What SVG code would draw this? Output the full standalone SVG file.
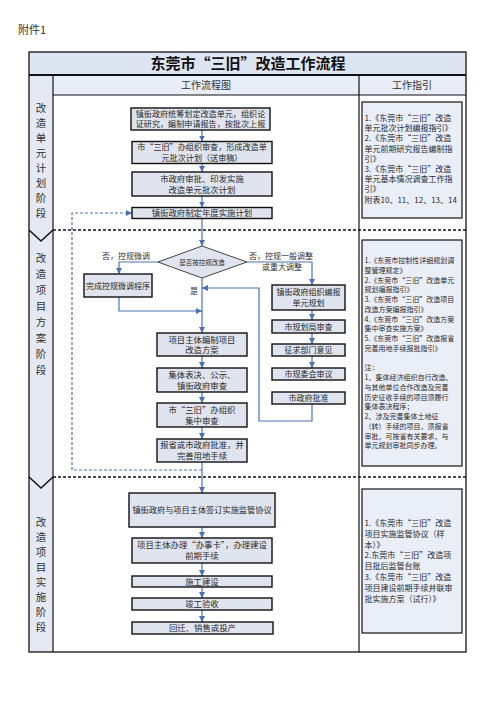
<svg xmlns="http://www.w3.org/2000/svg" width="496" height="702" viewBox="0 0 496 702">
<style>
text{font-family:"Noto Sans CJK SC","Liberation Sans",sans-serif;fill:#2a2a2a}
.box{fill:#dfe4ee;stroke:#111;stroke-width:1.4}
.bt{font-size:8.4px;text-anchor:middle}
.gbox{fill:#eaeef7;stroke:#111;stroke-width:1.2}
.g{font-size:8px}
.g2{font-size:7px}
.stage{font-size:10.5px;text-anchor:middle;fill:#333}
.c{fill:none;stroke:#4a72b5;stroke-width:1.2}
.lbl{font-size:8px;fill:#333}
</style>
<defs>
<marker id="ah" markerWidth="6" markerHeight="6" refX="6" refY="3" orient="auto" markerUnits="userSpaceOnUse">
<path d="M0,0 L6,3 L0,6 z" fill="#4a72b5"/>
</marker>
</defs>
<rect width="496" height="702" fill="#fff"/>
<text x="18" y="34" style="font-size:11px;fill:#333">附件1</text>

<g id="table">
<rect x="29" y="52" width="437" height="23" fill="#dde5f3"/>
<rect x="53" y="75" width="413" height="20" fill="#e8edf7"/>
<rect x="29" y="75" width="24" height="577" fill="#e4e9f4"/>
<rect x="29" y="52" width="437" height="600" fill="none" stroke="#111" stroke-width="1.3"/>
<line x1="29" y1="75" x2="466" y2="75" stroke="#111" stroke-width="2.2"/>
<line x1="53" y1="95" x2="466" y2="95" stroke="#111" stroke-width="1.2"/>
<line x1="53" y1="75" x2="53" y2="652" stroke="#111" stroke-width="1.2"/>
<line x1="359" y1="75" x2="359" y2="652" stroke="#111" stroke-width="1.2"/>
<line x1="53" y1="230" x2="466" y2="230" stroke="#111" stroke-width="1.5" stroke-dasharray="3,2"/>
<line x1="53" y1="477" x2="466" y2="477" stroke="#111" stroke-width="1.5" stroke-dasharray="3,2"/>
<polyline points="29,230 41,241 53,230" fill="none" stroke="#111" stroke-width="1.5"/>
<polyline points="29,477 41,488 53,477" fill="none" stroke="#111" stroke-width="1.5"/>
<text x="248" y="69" style="font-size:15px;font-weight:bold;text-anchor:middle;fill:#111">东莞市“三旧”改造工作流程</text>
<text x="206" y="89" style="font-size:10px;text-anchor:middle;fill:#333">工作流程图</text>
<text x="412" y="89" style="font-size:10px;text-anchor:middle;fill:#333">工作指引</text>
</g>

<g id="stage1-label">
<text class="stage" x="41" y="112">改</text><text class="stage" x="41" y="127">造</text><text class="stage" x="41" y="142">单</text><text class="stage" x="41" y="157">元</text><text class="stage" x="41" y="172">计</text><text class="stage" x="41" y="187">划</text><text class="stage" x="41" y="202">阶</text><text class="stage" x="41" y="217">段</text>
</g>
<g id="stage2-label">
<text class="stage" x="41" y="262">改</text><text class="stage" x="41" y="278">造</text><text class="stage" x="41" y="294">项</text><text class="stage" x="41" y="310">目</text><text class="stage" x="41" y="326">方</text><text class="stage" x="41" y="342">案</text><text class="stage" x="41" y="358">阶</text><text class="stage" x="41" y="374">段</text>
</g>
<g id="stage3-label">
<text class="stage" x="41" y="526">改</text><text class="stage" x="41" y="541">造</text><text class="stage" x="41" y="556">项</text><text class="stage" x="41" y="571">目</text><text class="stage" x="41" y="586">实</text><text class="stage" x="41" y="601">施</text><text class="stage" x="41" y="616">阶</text><text class="stage" x="41" y="631">段</text>
</g>

<g id="connectors">
<path class="c" d="M202,130 V141.5" marker-end="url(#ah)"/>
<path class="c" d="M202,163.5 V172" marker-end="url(#ah)"/>
<path class="c" d="M202,196 V207.5" marker-end="url(#ah)"/>
<path class="c" d="M202,218.5 V246" marker-end="url(#ah)"/>
<path class="c" d="M202,278 V333" marker-end="url(#ah)"/>
<path class="c" d="M158,262 H119 V274" marker-end="url(#ah)"/>
<path class="c" d="M119,297 V311 H202" marker-end="url(#ah)"/>
<path class="c" d="M247,262 H312 V285" marker-end="url(#ah)"/>
<path class="c" d="M312,310 V320" marker-end="url(#ah)"/>
<path class="c" d="M312,333 V344" marker-end="url(#ah)"/>
<path class="c" d="M312,356 V368" marker-end="url(#ah)"/>
<path class="c" d="M312,404 V421 H259 V288 H202" marker-end="url(#ah)"/>
<path class="c" d="M202,356 V368" marker-end="url(#ah)"/>
<path class="c" d="M202,392 V403" marker-end="url(#ah)"/>
<path class="c" d="M202,427 V439" marker-end="url(#ah)"/>
<path class="c" d="M202,462 V493" marker-end="url(#ah)"/>
<path class="c" d="M202,527 V538" marker-end="url(#ah)"/>
<path class="c" d="M202,563 V576" marker-end="url(#ah)"/>
<path class="c" d="M202,587 V598" marker-end="url(#ah)"/>
<path class="c" d="M202,610 V622" marker-end="url(#ah)"/>
<path class="c" d="M202,470 H72 V213 H132" stroke-dasharray="3,2" marker-end="url(#ah)"/>
<text class="lbl" x="126" y="259" text-anchor="middle">否，控规微调</text>
<text class="lbl" x="249" y="259">否，控规一般调整</text>
<text class="lbl" x="262" y="270">或重大调整</text>
<text class="lbl" x="190" y="294">是</text>
</g>

<g id="n1"><rect class="box" x="131" y="108" width="139" height="22"/>
<text class="bt" x="200.5" y="116.6" style="font-size:8.1px">镇街政府统筹划定改造单元，组织论</text><text class="bt" x="200.5" y="127.2" style="font-size:8.1px">证研究，编制申请报告，按批次上报</text></g>
<g id="n2"><rect class="box" x="132" y="141.5" width="140" height="22"/>
<text class="bt" x="202" y="150.1" style="font-size:8.1px">市“三旧”办组织审查，形成改造单</text><text class="bt" x="202" y="160.7" style="font-size:8.1px">元批次计划（送审稿）</text></g>
<g id="n3"><rect class="box" x="132" y="172" width="140" height="24"/>
<text class="bt" x="202" y="181.5">市政府审批、印发实施</text><text class="bt" x="202" y="192.5">改造单元批次计划</text></g>
<g id="n4"><rect class="box" x="132" y="207.5" width="140" height="11"/>
<text class="bt" x="202" y="216">镇街政府制定年度实施计划</text></g>

<g id="decision"><polygon points="202,246 247,262 202,278 158,262" fill="#dfe4ee" stroke="#444" stroke-width="1"/>
<text x="202" y="264.5" style="font-size:6.5px;text-anchor:middle">是否按控规改造</text></g>
<g id="n-minor"><rect class="box" x="84" y="274" width="68" height="23"/>
<text class="bt" x="118" y="288.5" style="font-size:8px">完成控规微调程序</text></g>

<g id="p1"><rect class="box" x="157" y="333" width="90" height="23"/>
<text class="bt" x="202" y="342.5">项目主体编制项目</text><text class="bt" x="202" y="353">改造方案</text></g>
<g id="p2"><rect class="box" x="157" y="368" width="90" height="24"/>
<text class="bt" x="202" y="377.5">集体表决、公示、</text><text class="bt" x="202" y="388.5">镇街政府审查</text></g>
<g id="p3"><rect class="box" x="157" y="403" width="90" height="24"/>
<text class="bt" x="202" y="412.5">市“三旧”办组织</text><text class="bt" x="202" y="423.5">集中审查</text></g>
<g id="p4"><rect class="box" x="157" y="439" width="90" height="23"/>
<text class="bt" x="202" y="448">报省或市政府批准，并</text><text class="bt" x="202" y="458.5">完善用地手续</text></g>

<g id="r1"><rect class="box" x="272" y="285" width="73" height="25"/>
<text class="bt" x="308.5" y="294.5" style="font-size:8px">镇街政府组织编报</text><text class="bt" x="308.5" y="305.5" style="font-size:8px">单元规划</text></g>
<g id="r2"><rect class="box" x="272" y="320" width="73" height="13"/>
<text class="bt" x="308.5" y="329.5" style="font-size:8px">市规划局审查</text></g>
<g id="r3"><rect class="box" x="272" y="344" width="73" height="12"/>
<text class="bt" x="308.5" y="353" style="font-size:8px">征求部门意见</text></g>
<g id="r4"><rect class="box" x="272" y="368" width="73" height="12"/>
<text class="bt" x="308.5" y="377" style="font-size:8px">市规委会审议</text></g>
<g id="r5"><rect class="box" x="272" y="392" width="73" height="12"/>
<text class="bt" x="308.5" y="401" style="font-size:8px">市政府批准</text></g>

<g id="s3a"><rect class="box" x="129" y="493" width="146" height="34"/>
<text class="bt" x="202" y="513" style="font-size:8.2px">镇街政府与项目主体签订实施监管协议</text></g>
<g id="s3b"><rect class="box" x="132" y="538" width="140" height="25"/>
<text class="bt" x="202" y="547.5">项目主体办理“办事卡”，办理建设</text><text class="bt" x="202" y="558.5">前期手续</text></g>
<g id="s3c"><rect class="box" x="132" y="576" width="140" height="11"/>
<text class="bt" x="202" y="584.5">施工建设</text></g>
<g id="s3d"><rect class="box" x="132" y="598" width="140" height="12"/>
<text class="bt" x="202" y="607">竣工验收</text></g>
<g id="s3e"><rect class="box" x="132" y="622" width="141" height="12"/>
<text class="bt" x="202.5" y="631">回迁、销售或投产</text></g>

<g id="guide1"><rect class="gbox" x="362" y="102" width="100" height="116"/>
<text class="g" x="364.5" y="121">1.《东莞市“三旧”改造</text>
<text class="g" x="364.5" y="131.2">单元批次计划编报指引》</text>
<text class="g" x="364.5" y="141.4">2.《东莞市“三旧”改造</text>
<text class="g" x="364.5" y="151.6">单元前期研究报告编制指</text>
<text class="g" x="364.5" y="161.8">引》</text>
<text class="g" x="364.5" y="172">3.《东莞市“三旧”改造</text>
<text class="g" x="364.5" y="182.2">单元基本情况调查工作指</text>
<text class="g" x="364.5" y="192.4">引》</text>
<text class="g" x="364.5" y="202.6">附表10、11、12、13、14</text></g>

<g id="guide2"><rect class="gbox" x="362" y="240" width="100" height="226"/>
<text class="g2" x="364.5" y="263">1.《东莞市控制性详细规划调</text>
<text class="g2" x="364.5" y="272.75">整管理规定》</text>
<text class="g2" x="364.5" y="282.5">2.《东莞市“三旧”改造单元</text>
<text class="g2" x="364.5" y="292.25">规划编报指引》</text>
<text class="g2" x="364.5" y="302">3.《东莞市“三旧”改造项目</text>
<text class="g2" x="364.5" y="311.75">改造方案编报指引》</text>
<text class="g2" x="364.5" y="321.5">4.《东莞市“三旧”改造方案</text>
<text class="g2" x="364.5" y="331.25">集中审查实施方案》</text>
<text class="g2" x="364.5" y="341">5.《东莞市“三旧”改造报省</text>
<text class="g2" x="364.5" y="350.75">完善用地手续报批指引》</text>
<text class="g2" x="364.5" y="370.25">注：</text>
<text class="g2" x="364.5" y="380">1、集体经济组织自行改造、</text>
<text class="g2" x="364.5" y="389.75">与其他单位合作改造及完善</text>
<text class="g2" x="364.5" y="399.5">历史征收手续的项目须履行</text>
<text class="g2" x="364.5" y="409.25">集体表决程序；</text>
<text class="g2" x="364.5" y="419">2、涉及完善集体土地征</text>
<text class="g2" x="364.5" y="428.75">（转）手续的项目，须报省</text>
<text class="g2" x="364.5" y="438.5">审批，可按省有关要求，与</text>
<text class="g2" x="364.5" y="448.25">单元规划审批同步办理。</text></g>

<g id="guide3"><rect class="gbox" x="362" y="489" width="100" height="144"/>
<text class="g" x="364.5" y="526">1.《东莞市“三旧”改造</text>
<text class="g" x="364.5" y="536.8">项目实施监管协议（样</text>
<text class="g" x="364.5" y="547.6">本）》</text>
<text class="g" x="364.5" y="558.4">2.东莞市“三旧”改造项</text>
<text class="g" x="364.5" y="569.2">目批后监管台账</text>
<text class="g" x="364.5" y="580">3.《东莞市“三旧”改造</text>
<text class="g" x="364.5" y="590.8">项目建设前期手续并联审</text>
<text class="g" x="364.5" y="601.6">批实施方案（试行）》</text></g>
</svg>
